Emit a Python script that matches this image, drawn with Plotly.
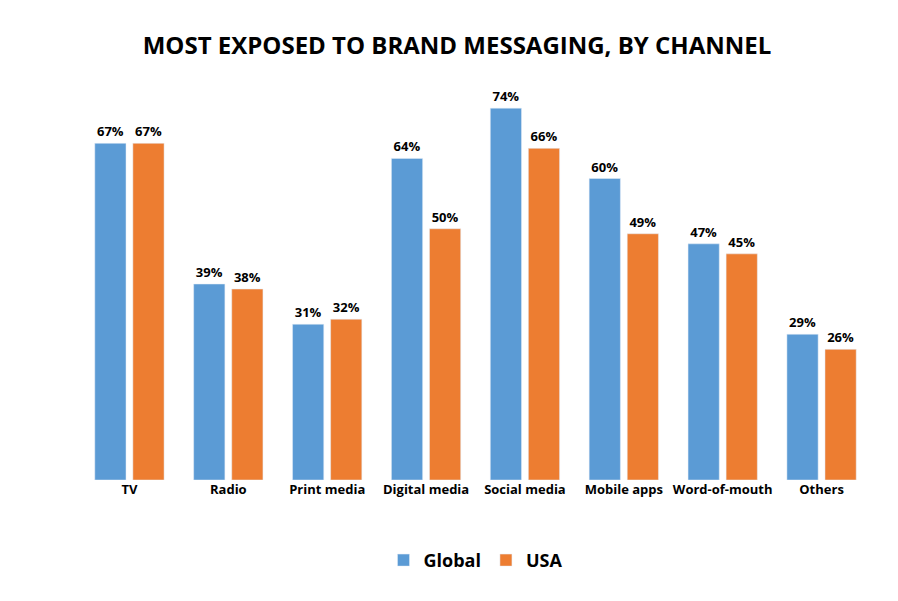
import plotly.graph_objects as go

categories = ["TV", "Radio", "Print media", "Digital media", "Social media", "Mobile apps", "Word-of-mouth", "Others"]
global_vals = [67, 39, 31, 64, 74, 60, 47, 29]
usa_vals = [67, 38, 32, 50, 66, 49, 45, 26]

fnt = "Open Sans"
fig = go.Figure()
for name, vals, col in [("Global", global_vals, "#5B9BD5"), ("USA", usa_vals, "#ED7D31")]:
    fig.add_trace(go.Bar(
        x=categories, y=vals, name=name, marker_color=col,
        text=[f"<b>{v}%</b>" for v in vals], textposition="outside",
        textfont=dict(size=13, color="black", family=fnt), cliponaxis=False,
    ))

fig.update_layout(
    width=898, height=601,
    paper_bgcolor="white", plot_bgcolor="white",
    margin=dict(l=72, r=35, t=70, b=129),
    title=dict(text="<b>MOST EXPOSED TO BRAND MESSAGING, BY CHANNEL</b>", x=0.5, xanchor="center",
               y=0.937, yanchor="middle", font=dict(size=24, color="black", family=fnt)),
    barmode="group", bargap=0.23, bargroupgap=0.18,
    xaxis=dict(showline=False, ticks="", tickfont=dict(size=13, color="black", family=fnt),
               tickprefix="<b>", ticksuffix="</b>"),
    yaxis=dict(range=[0, 80], visible=False, showgrid=False),
    legend=dict(orientation="h", x=0.5, xanchor="center", y=-0.2, yanchor="middle",
                font=dict(size=18, color="black", family=fnt)),
    showlegend=True,
)
fig.data[0].name = "<b>Global</b>"
fig.data[1].name = "<b>USA</b>"
fig.write_html("out.html")
